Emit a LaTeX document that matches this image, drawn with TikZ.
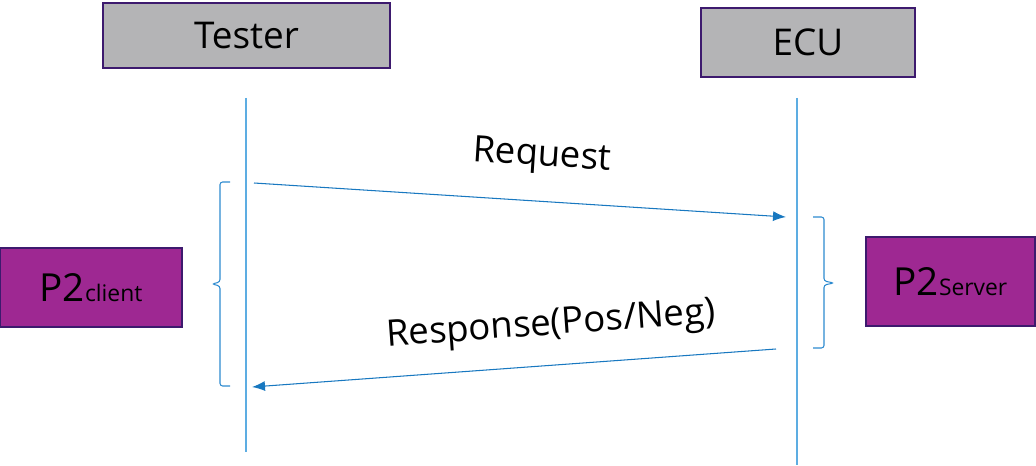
\documentclass[tikz,border=0pt]{standalone}
\usepackage{fontspec}
\setmainfont{Open Sans}
\usetikzlibrary{arrows.meta}
\tikzset{>={Latex[length=2.6mm,width=2mm]}}
\definecolor{boxgray}{HTML}{B4B4B6}
\definecolor{edgepurple}{HTML}{3D1A6E}
\definecolor{timerpurple}{HTML}{9E2892}
\definecolor{lifeblue}{HTML}{5DADE2}
\definecolor{msgblue}{HTML}{1878C0}
\definecolor{brcblue}{HTML}{2C8ACF}

\begin{document}
\begin{tikzpicture}[x=0.02cm,y=-0.02cm,
  actor/.style = {draw=edgepurple, fill=boxgray, line width=1pt, inner sep=0pt, font=\fontsize{21}{24}\selectfont},
  timer/.style = {draw=edgepurple, fill=timerpurple, line width=1pt, inner sep=0pt, font=\fontsize{22}{26}\selectfont},
  life/.style = {draw=lifeblue, line width=0.9pt},
  msg/.style = {draw=msgblue, line width=0.6pt, ->},
  brc/.style = {draw=brcblue, line width=0.6pt, rounded corners=1.5pt},
  lbl/.style = {font=\fontsize{20.8}{24}\selectfont, inner sep=0pt}]
\useasboundingbox (0,0) rectangle (1036,466);

    \node[actor, minimum width=5.74cm, minimum height=1.3cm] (tester) at (246.5,35.5) {Tester};
    \node[actor, minimum width=4.28cm, minimum height=1.38cm] (ecu) at (808,42.5) {ECU};
    \node[timer, minimum width=3.64cm, minimum height=1.58cm] (p2c) at (91,287.5) {P2{\fontsize{13}{15}\selectfont client}};
    \node[timer, minimum width=3.38cm, minimum height=1.78cm] (p2s) at (950.5,281.5) {P2{\fontsize{13}{15}\selectfont Server}};

    % lifelines
    \coordinate (ttop) at (246,98);
    \coordinate (tbot) at (246,452);
    \coordinate (etop) at (797,98);
    \coordinate (ebot) at (797,465);
    \draw[life] (ttop) -- (tbot);
    \draw[life] (etop) -- (ebot);

    % messages
    \coordinate (reqs) at (254,183);
    \coordinate (reqe) at (786,217);
    \coordinate (resps) at (776,349);
    \coordinate (respe) at (252,387);
    \draw[msg] (reqs) -- (reqe);
    \draw[msg] (resps) -- (respe);
    \node[lbl, rotate=-3.7] (req) at (542,157) {Request};
    \node[lbl, rotate=4.1] (resp) at (551,326) {Response(Pos/Neg)};

    % timeouts
    \coordinate (cbtop) at (230,182);
    \coordinate (cbbot) at (230,386);
    \coordinate (cbtip) at (212,284);
    \coordinate (sbtop) at (813,217);
    \coordinate (sbbot) at (813,348);
    \coordinate (sbtip) at (834,283);
    \draw[brc] (cbtop) -- (220,182) -- (220,282) -- (cbtip) -- (220,286) -- (220,386) -- (cbbot);
    \draw[brc] (sbtop) -- (824,217) -- (824,281) -- (sbtip) -- (824,285) -- (824,348) -- (sbbot);
\end{tikzpicture}
\end{document}
